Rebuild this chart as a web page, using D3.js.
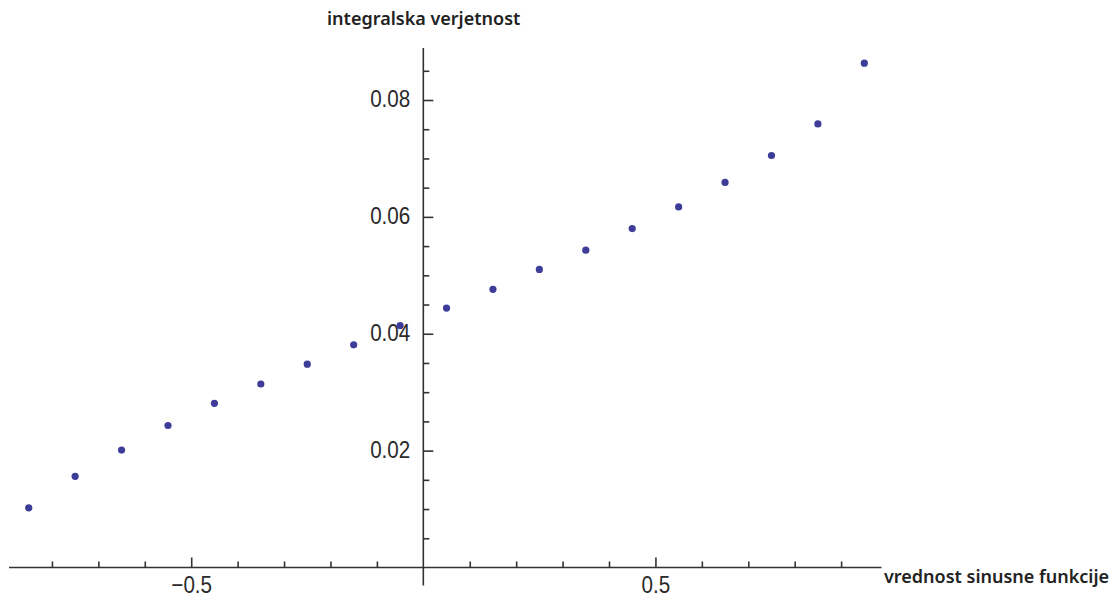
<!DOCTYPE html>
<html>
<head>
<meta charset="utf-8">
<script src="https://cdn.jsdelivr.net/npm/d3@7"></script>
<style>
  body { margin: 0; background: #fff; }
  svg { display: block; }
  .tick text { font-family: "Liberation Sans", Arial, sans-serif; font-size: 24px; fill: #2a2a2a; }
  .axis-label { font-family: "Noto Sans", "Open Sans", sans-serif; font-size: 18px; font-weight: 600; fill: #222; }
</style>
</head>
<body>
<div id="chart"></div>
<script>
// sine value (x) and cumulative probability (y)
const sineValues = [-0.85, -0.75, -0.65, -0.55, -0.45, -0.35, -0.25, -0.15, -0.05,
                    0.05, 0.15, 0.25, 0.35, 0.45, 0.55, 0.65, 0.75, 0.85, 0.95]
const probabilities = [0.0102, 0.0156, 0.0201, 0.0243, 0.0281, 0.0314, 0.0348, 0.0381, 0.0414,
                       0.0444, 0.0476, 0.0510, 0.0543, 0.0580, 0.0617, 0.0659, 0.0705, 0.0759, 0.0863]
const xMajorTicks = [-0.5, 0.5]
const yMajorTicks = [0.02, 0.04, 0.06, 0.08]
const xLabel = 'vrednost sinusne funkcije'
const yLabel = 'integralska verjetnost'

const points = sineValues.map((v, i) => ({ x: v, y: probabilities[i] }))

const width = 1119, height = 604
const squeeze = 0.86  // narrow look of the tick labels

const svg = d3.select('#chart')
  .append('svg')
    .attr('width', width)
    .attr('height', height)

// scales: axes cross at the origin
const x = d3.scaleLinear()
  .domain([-0.8925, 0.987])
  .range([9, 881.5])

const y = d3.scaleLinear()
  .domain([-0.0031, 0.0889])
  .range([585.6, 48])

const xMinor = d3.range(-8, 10).map(d => d / 10).filter(d => d != 0 && xMajorTicks.indexOf(d) < 0)
const yMinor = d3.range(1, 18).map(d => d * 0.005).filter(d => yMajorTicks.every(m => Math.abs(m - d) > 1e-9))

// x axis, ticks pointing up
const xAxisG = svg.append('g')
  .attr('transform', 'translate(0,' + y(0) + ')')

xAxisG.append('g')
  .call(d3.axisTop(x).tickValues(xMinor).tickSize(6).tickFormat(''))
xAxisG.append('g')
  .call(d3.axisTop(x).tickValues(xMajorTicks).tickSize(10).tickFormat(''))
  .select('.domain').remove()
xAxisG.append('g')
  .call(d3.axisBottom(x).tickValues(xMajorTicks).tickSize(0).tickPadding(8)
    .tickFormat(d => d3.format('.1f')(d).replace('-', '\u2212')))
  .select('.domain').remove()

xAxisG.selectAll('.tick text')
  .attr('transform', 'scale(' + squeeze + ',1)')

xAxisG.selectAll('.domain, .tick line')
  .attr('stroke', '#333')
  .attr('stroke-width', 1.6)
xAxisG.selectAll('.domain').attr('d', 'M' + x.range()[0] + ',0H' + x.range()[1])

// y axis, ticks pointing right
const yAxisG = svg.append('g')
  .attr('transform', 'translate(' + x(0) + ',0)')

yAxisG.append('g')
  .call(d3.axisRight(y).tickValues(yMinor).tickSize(6).tickFormat(''))
yAxisG.append('g')
  .call(d3.axisRight(y).tickValues(yMajorTicks).tickSize(10).tickFormat(''))
  .select('.domain').remove()
yAxisG.append('g')
  .call(d3.axisLeft(y).tickValues(yMajorTicks).tickSize(0).tickPadding(12).tickFormat(d3.format('.2f')))
  .select('.domain').remove()

yAxisG.selectAll('.tick text')
  .attr('x', -13 / squeeze)
  .attr('dy', '0.28em')
  .attr('transform', 'scale(' + squeeze + ',1)')

yAxisG.selectAll('.domain, .tick line')
  .attr('stroke', '#333')
  .attr('stroke-width', 1.6)
yAxisG.selectAll('.domain').attr('d', 'M0,' + y.range()[0] + 'V' + y.range()[1])

// axis labels
svg.append('text')
  .attr('class', 'axis-label')
  .attr('x', 884)
  .attr('y', 583)
  .text(xLabel)

svg.append('text')
  .attr('class', 'axis-label')
  .attr('x', 327)
  .attr('y', 25)
  .text(yLabel)

// points
svg.selectAll('circle.pt')
  .data(points)
  .enter()
  .append('circle')
    .attr('class', 'pt')
    .attr('cx', d => x(d.x))
    .attr('cy', d => y(d.y))
    .attr('r', 3.6)
    .attr('fill', '#3d3d99')
</script>
</body>
</html>
